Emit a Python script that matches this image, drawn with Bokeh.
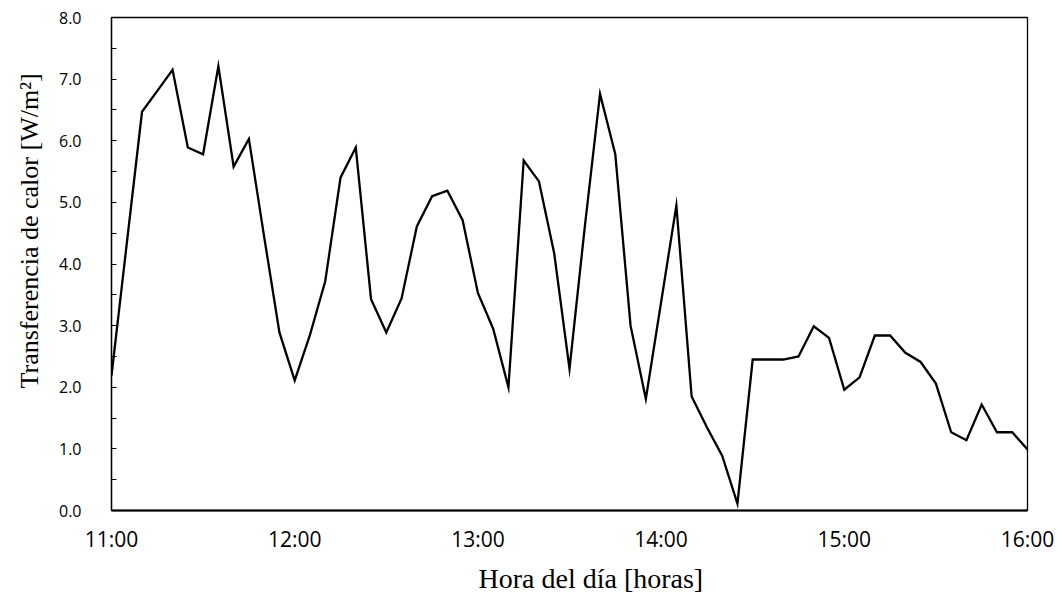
import pandas as pd
from bokeh.plotting import figure
from bokeh.models import (Range1d, FixedTicker, DatetimeTickFormatter,
                          PrintfTickFormatter, Title, ColumnDataSource)
from bokeh.embed import file_html
from bokeh.resources import INLINE

# ---- data -------------------------------------------------------------
day = "2023-01-01"
start_time = "11:00"
end_time = "16:00"
step = "5min"
heat_flux = [2.19, 4.33, 6.47, 6.81, 7.15, 5.89, 5.78, 7.21, 5.58, 6.03,
             4.44, 2.89, 2.11, 2.85, 3.72, 5.40, 5.89, 3.43, 2.89, 3.44,
             4.61, 5.10, 5.19, 4.71, 3.53, 2.95, 2.00, 5.68, 5.34, 4.17,
             2.30, 4.60, 6.76, 5.78, 3.00, 1.81, 3.38, 4.95, 1.85, 1.35,
             0.89, 0.11, 2.45, 2.45, 2.45, 2.50, 2.99, 2.80, 1.96, 2.16,
             2.84, 2.84, 2.56, 2.41, 2.06, 1.27, 1.14, 1.72, 1.27, 1.27,
             0.99]
x_tick_labels = ["11:00", "12:00", "13:00", "14:00", "15:00", "16:00"]
y_ticks = [0, 1, 2, 3, 4, 5, 6, 7, 8]
y_minor_ticks = [0.5, 1.5, 2.5, 3.5, 4.5, 5.5, 6.5, 7.5]
x_title = "Hora del día [horas]"
y_title = "Transferencia de calor [W/m²]"

times = pd.date_range(f"{day} {start_time}", periods=len(heat_flux), freq=step)
src = ColumnDataSource(dict(t=times, q=heat_flux))

def ms(hhmm):
    return pd.Timestamp(f"{day} {hhmm}").value / 1e6

p = figure(width=1058, height=599, output_backend="svg", toolbar_location=None,
           x_axis_type="datetime",
           x_range=Range1d(ms(start_time), ms(end_time)),
           y_range=Range1d(0, 8),
           min_border_left=111, min_border_right=31,
           min_border_top=17, min_border_bottom=89)

p.line("t", "q", source=src, line_color="black", line_width=2.3,
       line_join="miter")

p.grid.visible = False
p.background_fill_color = "white"
p.border_fill_color = "white"
p.outline_line_color = "black"
p.outline_line_width = 1.3

# x axis
xa = p.xaxis[0]
xa.ticker = FixedTicker(ticks=[ms(t) for t in x_tick_labels])
xa.formatter = DatetimeTickFormatter(hours="%H:%M", minutes="%H:%M",
                                     days="%H:%M", hourmin="%H:%M")
xa.major_tick_line_color = None
xa.minor_tick_line_color = None
xa.axis_line_color = "black"
xa.axis_line_width = 2
xa.major_label_text_font = "Open Sans"
xa.major_label_text_font_size = "21px"
xa.major_label_text_color = "black"
xa.major_label_standoff = 8

# y axis
ya = p.yaxis[0]
ya.ticker = FixedTicker(ticks=y_ticks, minor_ticks=y_minor_ticks)
ya.formatter = PrintfTickFormatter(format="%.1f")
ya.axis_line_color = "black"
ya.axis_line_width = 1.3
ya.major_tick_in = 5
ya.major_tick_out = 0
ya.minor_tick_in = 5
ya.minor_tick_out = 0
ya.major_tick_line_color = "black"
ya.minor_tick_line_color = "black"
ya.major_tick_line_width = 1
ya.minor_tick_line_width = 1
ya.major_label_text_font = "Open Sans"
ya.major_label_text_font_size = "16px"
ya.major_label_text_color = "black"
ya.major_label_standoff = 30

# axis titles (offset as in the reference)
p.add_layout(Title(text=x_title, align="left", offset=367, standoff=10,
                   text_font="Liberation Serif", text_font_size="28px",
                   text_font_style="normal", text_color="black"), "below")
p.add_layout(Title(text=y_title, align="left", offset=122, standoff=24,
                   text_font="Liberation Serif", text_font_size="26px",
                   text_font_style="normal", text_color="black"), "left")

open("out.html", "w").write(file_html(p, INLINE))
